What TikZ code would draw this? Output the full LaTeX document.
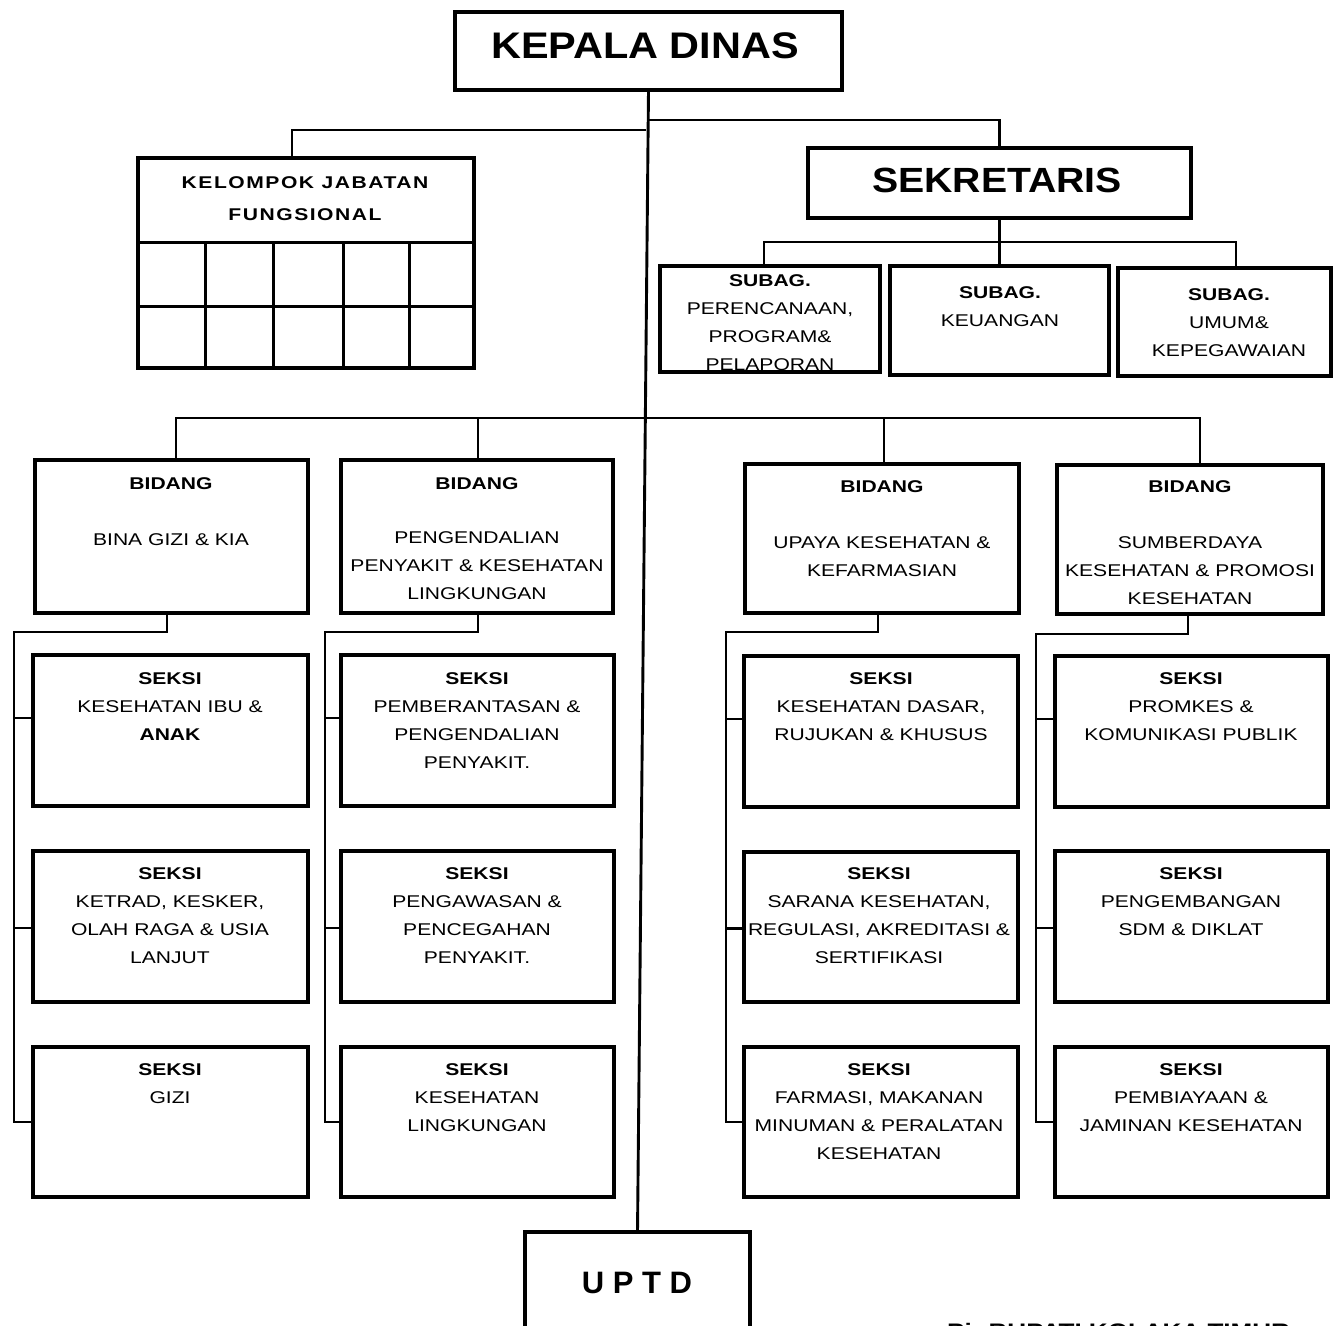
\documentclass[tikz,border=0pt]{standalone}
\usepackage{fontspec}
\setmainfont{Liberation Sans}
\newfontfamily\stf[FakeStretch=1.24]{Liberation Sans}
\newfontfamily\ttl[FakeStretch=1.12]{Liberation Sans}
% box from (x1,y1) to (x2,y2), y measured downwards
\newcommand\bx[5]{\node[box, minimum width={#4-#2}, minimum height={#5-#3}] (#1) at ({(#2+#4)/2},{(#3+#5)/2}) {};}
% text block whose first line has its cap top at (x,y)
\newcommand\tx[4]{\node[txt, anchor=north] (#1) at (#2,#3) {#4};}
\begin{document}
\begin{tikzpicture}[x=1pt,y=-1pt,
  box/.style={draw, line width=3.2pt, inner sep=0pt, outer sep=0pt},
  txt/.style={inner sep=0pt, align=center, text=black, font=\stf\fontsize{17}{28}\selectfont},
  conn/.style={line width=2.9pt}]
\useasboundingbox (0,0) rectangle (1333,1325);
\clip (0,0) rectangle (1333,1325);

% ---- head ----
\bx{kd}{455}{12}{842}{90}
\node[inner sep=0pt, font=\ttl\bfseries\fontsize{37}{40}\selectfont] (kdt) at (645,46) {KEPALA DINAS};

\bx{sek}{808}{148}{1191}{218}
\node[inner sep=0pt, font=\ttl\bfseries\fontsize{35}{38}\selectfont] (sekt) at (997,180) {SEKRETARIS};

% ---- functional group ----
\bx{kjf}{138}{158}{474}{368}
\draw[line width=3pt] (138,242) -- (474,242) (138,306) -- (474,306)
  (205,242) -- (205,368) (273,242) -- (273,368) (343,242) -- (343,368) (409,242) -- (409,368);
\node[txt, anchor=north, font=\stf\bfseries\fontsize{17}{28}\selectfont\addfontfeature{LetterSpace=9}] (kjft) at (305,176) {KELOMPOK JABATAN\\[4pt]FUNGSIONAL};

% ---- sub-sections of the secretariat ----
\bx{sub1}{660}{266}{880}{372}
\bx{sub2}{890}{266}{1109}{375}
\bx{sub3}{1118}{268}{1331}{376}
\begin{scope}
  \clip (660,266) rectangle (880,369);
  \tx{sub1t}{770}{274}{\textbf{SUBAG.}\\PERENCANAAN,\\PROGRAM\&\\PELAPORAN}
\end{scope}
\tx{sub2t}{1000}{286}{\textbf{SUBAG.}\\KEUANGAN}
\tx{sub3t}{1229}{288}{\textbf{SUBAG.}\\UMUM\&\\KEPEGAWAIAN}

% ---- divisions ----
\bx{b1}{35}{460}{308}{613}
\bx{b2}{341}{460}{613}{613}
\bx{b3}{745}{464}{1019}{613}
\bx{b4}{1057}{465}{1323}{614}
\tx{b1t}{171}{477}{\textbf{BIDANG}\\[28pt]BINA GIZI \& KIA}
\tx{b2t}{477}{477}{\textbf{BIDANG}\\[26pt]PENGENDALIAN\\PENYAKIT \& KESEHATAN\\LINGKUNGAN}
\tx{b3t}{882}{480}{\textbf{BIDANG}\\[28pt]UPAYA KESEHATAN \&\\KEFARMASIAN}
\tx{b4t}{1190}{480}{\textbf{BIDANG}\\[28pt]SUMBERDAYA\\KESEHATAN \& PROMOSI\\KESEHATAN}

% ---- sections ----
\bx{s11}{33}{655}{308}{806}
\bx{s12}{33}{851}{308}{1002}
\bx{s13}{33}{1047}{308}{1197}
\bx{s21}{341}{655}{614}{806}
\bx{s22}{341}{851}{614}{1002}
\bx{s23}{341}{1047}{614}{1197}
\bx{s31}{744}{656}{1018}{807}
\bx{s32}{744}{852}{1018}{1002}
\bx{s33}{744}{1047}{1018}{1197}
\bx{s41}{1055}{656}{1328}{807}
\bx{s42}{1055}{851}{1328}{1002}
\bx{s43}{1055}{1047}{1328}{1197}

\tx{s11t}{170}{672}{\textbf{SEKSI}\\KESEHATAN IBU \&\\\textbf{ANAK}}
\tx{s12t}{170}{867}{\textbf{SEKSI}\\KETRAD, KESKER,\\OLAH RAGA \& USIA\\LANJUT}
\tx{s13t}{170}{1063}{\textbf{SEKSI}\\GIZI}
\tx{s21t}{477}{672}{\textbf{SEKSI}\\PEMBERANTASAN \&\\PENGENDALIAN\\PENYAKIT.}
\tx{s22t}{477}{867}{\textbf{SEKSI}\\PENGAWASAN \&\\PENCEGAHAN\\PENYAKIT.}
\tx{s23t}{477}{1063}{\textbf{SEKSI}\\KESEHATAN\\LINGKUNGAN}
\tx{s31t}{881}{672}{\textbf{SEKSI}\\KESEHATAN DASAR,\\RUJUKAN \& KHUSUS}
\tx{s32t}{879}{867}{\textbf{SEKSI}\\SARANA KESEHATAN,\\REGULASI, AKREDITASI \&\\SERTIFIKASI}
\tx{s33t}{879}{1063}{\textbf{SEKSI}\\FARMASI, MAKANAN\\MINUMAN \& PERALATAN\\KESEHATAN}
\tx{s41t}{1191}{672}{\textbf{SEKSI}\\PROMKES \&\\KOMUNIKASI PUBLIK}
\tx{s42t}{1191}{867}{\textbf{SEKSI}\\PENGEMBANGAN\\SDM \& DIKLAT}
\tx{s43t}{1191}{1063}{\textbf{SEKSI}\\PEMBIAYAAN \&\\JAMINAN KESEHATAN}

% ---- technical unit ----
\bx{up}{525}{1232}{750}{1345}
\node[inner sep=0pt, font=\bfseries\fontsize{31}{34}\selectfont] (upt) at (637,1283) {U P T D};

\node[anchor=base west, inner sep=0pt, font=\stf\bfseries\fontsize{21}{24}\selectfont] (pj) at (947,1338) {Pj. BUPATI KOLAKA TIMUR};

% ---- connectors ----
\draw[conn] (kd.south) -- (up.north);
\coordinate (jL) at (646,130);
\coordinate (jR) at (647,120);
\draw[conn] (jL) -| ([xshift=-14pt]kjf.north);
\draw[conn] (jR) -| (sek.north);

\coordinate (sb) at (999.5,242);
\draw[conn] (sek.south) -- (sub2.north);
\draw[conn] ([xshift=-6pt]sub1.north) |- (sb) -| ([xshift=11.5pt]sub3.north);

\coordinate (bb) at (645,418);
\draw[conn] ([xshift=4.5pt]b1.north) |- ([xshift=10pt]b4.north |- bb) -- ([xshift=10pt]b4.north);
\draw[conn] ([xshift=1pt]b2.north) -- ([xshift=1pt]b2.north |- bb);
\draw[conn] ([xshift=2pt]b3.north) -- ([xshift=2pt]b3.north |- bb);

\coordinate (v1) at (14,632);
\coordinate (v2) at (325,632);
\coordinate (v3) at (726,632);
\coordinate (v4) at (1036,634);
\draw[conn] ([xshift=-4.5pt]b1.south) |- (v1) |- (s13.west);
\draw[conn] ([xshift=1pt]b2.south) |- (v2) |- (s23.west);
\draw[conn] ([xshift=-4pt]b3.south) |- (v3) |- (s33.west);
\draw[conn] ([xshift=-2pt]b4.south) |- (v4) |- (s43.west);
\foreach \c in {1,2,3,4}{
  \draw[conn] ([yshift=12.5pt]s\c1.west) -- ([yshift=12.5pt]s\c1.west -| v\c);
  \draw[conn] ([yshift=-1.5pt]s\c2.west) -- ([yshift=-1.5pt]s\c2.west -| v\c);
}
\end{tikzpicture}
\end{document}
